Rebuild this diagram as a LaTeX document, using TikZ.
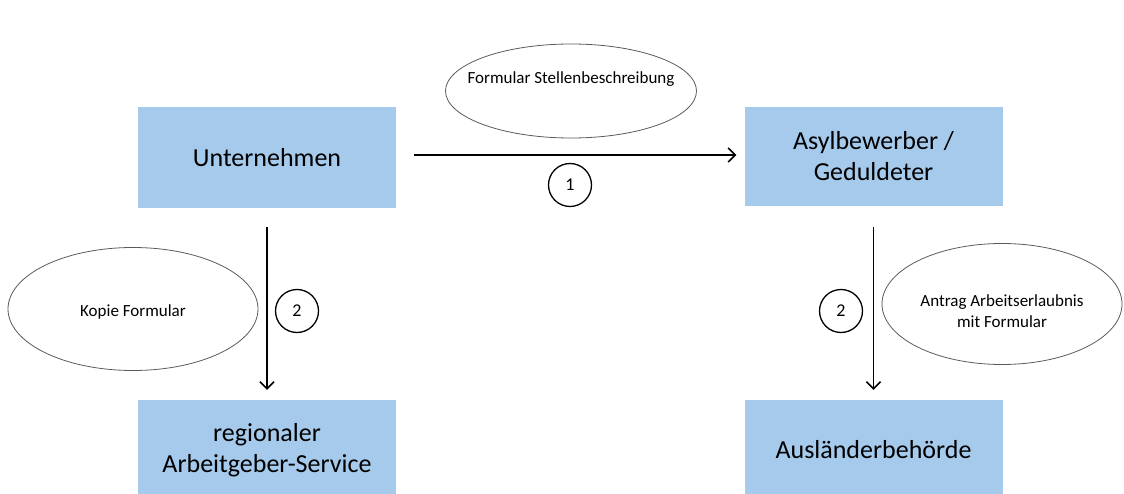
\documentclass[tikz,border=0pt]{standalone}
\usepackage{fontspec}
\setmainfont{Carlito}
\usetikzlibrary{arrows.meta,shapes.geometric}
\definecolor{boxblue}{RGB}{166,202,236}
\definecolor{ellgrey}{RGB}{90,90,90}
\tikzset{
  box/.style={fill=boxblue, draw=none, minimum width=258pt, inner sep=0pt, align=center, font=\fontsize{26}{31}\selectfont},
  note/.style={ellipse, draw=ellgrey, line width=0.8pt, inner sep=0pt},
  notetext/.style={align=center, inner sep=0pt, font=\fontsize{17}{21}\selectfont},
  num/.style={circle, draw=black, line width=1.3pt, minimum size=43pt, inner sep=0pt, font=\fontsize{18}{20}\selectfont},
  flow/.style={line width=1.8pt, -{Straight Barb[length=7pt,width=14pt,line width=1.6pt]}}
}
\begin{document}
\begin{tikzpicture}[x=1pt,y=-1pt]
\useasboundingbox (0,0) rectangle (1124,494);
\node[box, minimum height=101pt] (u) at (267,157.5) {Unternehmen};
\node[box, minimum height=99pt] (a) at (873.5,156.5) {Asylbewerber /\\Geduldeter};
\node[box, minimum height=100pt] (r) at (267,450) {regionaler\\Arbeitgeber-Service};
\node[box, minimum height=100pt] (b) at (873.5,450) {Ausländerbehörde};

\node[note, minimum width=251pt, minimum height=94pt, label={[notetext, yshift=12pt]center:Formular Stellenbeschreibung}] (e1) at (571,91) {};
\node[note, minimum width=250pt, minimum height=123pt, label={[notetext, yshift=-3pt]center:Kopie Formular}] (e2) at (133,309) {};
\node[note, minimum width=240pt, minimum height=121pt, label={[notetext, yshift=-7pt]center:Antrag Arbeitserlaubnis\\mit Formular}] (e3) at (1002,304) {};

\node[num] (n1) at (570,185) {1};
\node[num] (n2) at (297,311) {2};
\node[num] (n3) at (841,311) {2};

\draw[flow] ([xshift=18pt,yshift=2.5pt]u.east) -- ([xshift=-8pt,yshift=1.5pt]a.west);
\draw[flow] ([yshift=-19pt]u.south) -- ([yshift=10pt]r.north);
\draw[flow] ([yshift=-21pt]a.south) -- ([yshift=10pt]b.north);
\end{tikzpicture}
\end{document}
